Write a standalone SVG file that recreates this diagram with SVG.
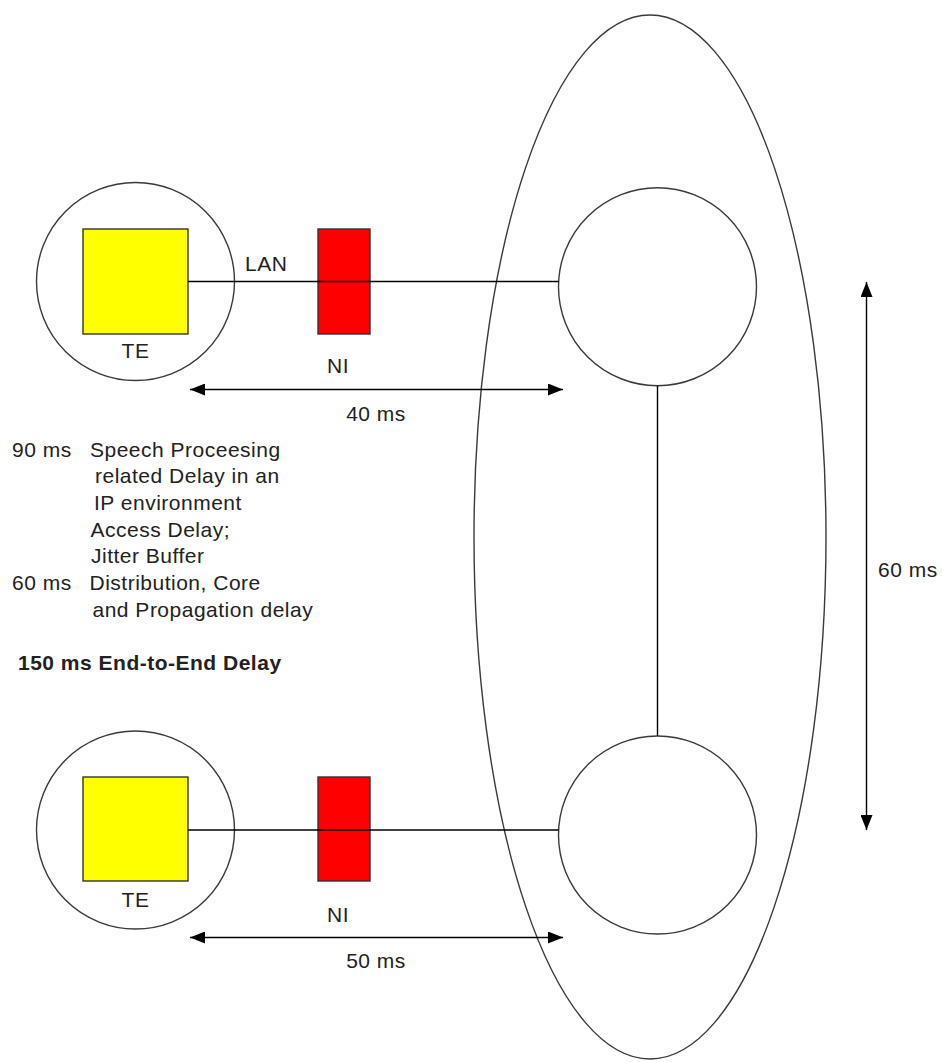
<svg xmlns="http://www.w3.org/2000/svg" width="942" height="1062" viewBox="0 0 942 1062">
<style>
.ring{fill:none;stroke:#3a3a3a;stroke-width:1.4}
.te{fill:#ffff00;stroke:#333;stroke-width:1.4}
.ni{fill:#ff0000;stroke:#333;stroke-width:1.4}
.ln{stroke:#000;stroke-width:1.4;fill:none}
text{font-family:"Liberation Sans",Arial,sans-serif;font-size:21px;fill:#222;letter-spacing:0.5px}
.b{font-weight:bold}
.c{text-anchor:middle}
</style>
<defs>
<marker id="ah" viewBox="0 0 15 12" refX="15" refY="6" markerWidth="15" markerHeight="12" markerUnits="userSpaceOnUse" orient="auto-start-reverse">
<path d="M0,0 L15,6 L0,12 Z" fill="#000"/>
</marker>
</defs>
<rect width="942" height="1062" fill="#fff"/>
<g id="network">
<ellipse class="ring" cx="650" cy="537" rx="176" ry="522"/>
</g>
<g id="te-top">
<circle class="ring" cx="135.5" cy="281.5" r="99"/>
<rect class="te" x="83" y="229" width="105" height="105"/>
<text class="c" x="135.5" y="358">TE</text>
</g>
<g id="te-bottom">
<circle class="ring" cx="135.5" cy="830" r="99"/>
<rect class="te" x="83" y="777" width="105" height="104"/>
<text class="c" x="135.5" y="907">TE</text>
</g>
<g id="ni-top">
<rect class="ni" x="318" y="229" width="52" height="105"/>
<text class="c" x="338" y="373">NI</text>
</g>
<g id="ni-bottom">
<rect class="ni" x="318" y="777" width="52" height="104"/>
<text class="c" x="338" y="922">NI</text>
</g>
<g id="node-top">
<circle class="ring" cx="657.5" cy="286.7" r="99"/>
</g>
<g id="node-bottom">
<circle class="ring" cx="657.5" cy="835" r="99"/>
</g>
<g id="connectors">
<line class="ln" x1="188" y1="281.5" x2="558.5" y2="281.5"/>
<line class="ln" x1="188" y1="830" x2="558.5" y2="830"/>
<line class="ln" x1="657.5" y1="385.7" x2="657.5" y2="736"/>
<line class="ln" x1="190" y1="389.5" x2="563" y2="389.5" marker-start="url(#ah)" marker-end="url(#ah)"/>
<line class="ln" x1="190" y1="937.5" x2="563" y2="937.5" marker-start="url(#ah)" marker-end="url(#ah)"/>
<line class="ln" x1="866.5" y1="282" x2="866.5" y2="830" marker-start="url(#ah)" marker-end="url(#ah)"/>
</g>
<g id="labels">
<text x="245" y="271">LAN</text>
<text class="c" x="376" y="421">40 ms</text>
<text class="c" x="376" y="968">50 ms</text>
<text x="878" y="577">60 ms</text>
<text x="12" y="456.7">90 ms</text>
<text x="90" y="456.7">Speech Proceesing</text>
<text x="95" y="483.3">related Delay in an</text>
<text x="94" y="510">IP environment</text>
<text x="90.5" y="536.7">Access Delay;</text>
<text x="91" y="563.3">Jitter Buffer</text>
<text x="12" y="590">60 ms</text>
<text x="89.5" y="590">Distribution, Core</text>
<text x="92.5" y="616.7">and Propagation delay</text>
<text class="b" x="18" y="670">150 ms End-to-End Delay</text>
</g>
</svg>
